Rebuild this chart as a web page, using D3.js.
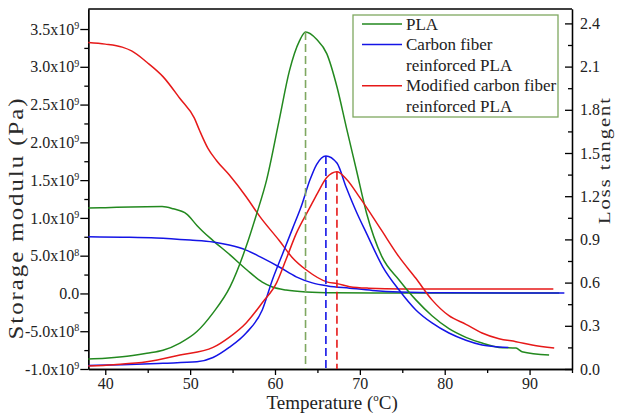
<!DOCTYPE html>
<html>
<head>
<meta charset="utf-8">
<script src="https://cdn.jsdelivr.net/npm/d3@7"></script>
<style>
  html, body { margin: 0; padding: 0; background: #fff; }
  svg { display: block; font-family: "Liberation Serif", "Times New Roman", serif; }
  svg text { font-family: "Liberation Serif", "Times New Roman", serif !important; }
</style>
</head>
<body>
<svg id="chart" width="619" height="419"></svg>
<script>
// ---------- DATA ----------
// Temperature (°C) vs storage modulus (x10^9 Pa) – left axis
const plaStorage = [[38,1.13],[40,1.135],[43,1.145],[46.7,1.15],[48,1.12],[49.6,1.05],[50.8,0.90],[51.5,0.82],[52.7,0.70],[54.7,0.51],[56.7,0.31],[58.5,0.15],[59.7,0.085],[61.3,0.045],[63.7,0.02],[67,0.01],[75,0.005],[93.5,0.005]];
const cfStorage = [[38,0.75],[42,0.745],[46,0.735],[50,0.706],[52.7,0.68],[54.6,0.64],[56.6,0.574],[58.5,0.47],[60.5,0.35],[62.5,0.22],[64.4,0.14],[66.2,0.10],[68.8,0.07],[71.5,0.04],[74.7,0.02],[80,0.01],[94.1,0.005]];
const mcfStorage = [[38,3.32],[40,3.30],[42,3.26],[43.1,3.21],[44.9,3.06],[46.8,2.87],[48.8,2.58],[50.5,2.32],[51.1,2.16],[52.1,1.92],[53.1,1.76],[54.6,1.57],[56.6,1.28],[58.2,1.02],[60.5,0.70],[62,0.48],[63.7,0.31],[66.2,0.15],[67.3,0.13],[68.8,0.09],[71,0.07],[75,0.06],[92.8,0.06]];
// Temperature (°C) vs loss tangent – right axis
const plaTan = [[38,0.07],[40,0.075],[42,0.085],[44.9,0.11],[46.8,0.13],[48.8,0.18],[50.8,0.26],[52.7,0.39],[54.7,0.57],[56.6,0.85],[57.8,1.07],[59,1.31],[60.5,1.73],[61.7,2.07],[62.9,2.28],[63.6,2.34],[64.9,2.29],[66.1,2.19],[67.3,1.96],[68.4,1.68],[69.6,1.38],[70.8,1.08],[72.6,0.78],[74.6,0.62],[76.6,0.48],[78.5,0.37],[80.5,0.28],[82.5,0.22],[84.4,0.18],[86.4,0.15],[88.4,0.145],[89.1,0.12],[92.3,0.097]];
const cfTan = [[38,0.025],[42,0.03],[46.8,0.04],[50.8,0.05],[52.7,0.08],[54.6,0.15],[56.6,0.25],[58.5,0.41],[59.7,0.62],[60.9,0.80],[62.1,0.98],[63.1,1.13],[64.1,1.31],[64.9,1.42],[66.0,1.48],[67.3,1.43],[68.4,1.26],[69.6,1.09],[70.8,0.94],[72.7,0.71],[74.6,0.55],[76.6,0.41],[78.5,0.32],[80.5,0.25],[82.5,0.20],[84.4,0.167],[86.4,0.153],[87.5,0.15]];
const mcfTan = [[38,0.02],[41,0.03],[44.9,0.05],[48.8,0.097],[52.7,0.15],[54.6,0.22],[56.6,0.32],[58.5,0.46],[60.2,0.60],[61.3,0.76],[62.5,0.94],[64.1,1.12],[65,1.22],[66.1,1.33],[67.3,1.37],[68.4,1.32],[70,1.19],[71.6,1.05],[72.7,0.95],[74.6,0.78],[76.6,0.63],[78.5,0.48],[80.5,0.37],[82.5,0.31],[84.4,0.25],[86.4,0.21],[88.4,0.19],[90.3,0.167],[92.9,0.145]];
// Peak positions [T, tan delta]
const peaks = [[63.6,2.34],[66.0,1.48],[67.3,1.37]];

const seriesNames = ["PLA", "Carbon fiber\nreinforced PLA", "Modified carbon fiber\nreinforced PLA"];

// Ticks
const xTicks = [40,50,60,70,80,90];
const xMinorTicks = [45,55,65,75,85,95];
const leftTicks = [-1,-0.5,0,0.5,1,1.5,2,2.5,3,3.5];
const leftTickLabels = ["-1.0x10^9","-5.0x10^8","0.0","5.0x10^8","1.0x10^9","1.5x10^9","2.0x10^9","2.5x10^9","3.0x10^9","3.5x10^9"];
const leftMinorTicks = [-0.75,-0.25,0.25,0.75,1.25,1.75,2.25,2.75,3.25];
const rightTicks = [0,0.3,0.6,0.9,1.2,1.5,1.8,2.1,2.4];
const rightTickLabels = ["0.0","0.3","0.6","0.9","1.2","1.5","1.8","2.1","2.4"];
const rightMinorTicks = [0.15,0.45,0.75,1.05,1.35,1.65,1.95,2.25];

// ---------- LAYOUT ----------
const colors = ["#23891f", "#1414e6", "#e61919"];
const dashColors = ["#7fa860", "#1414e6", "#e61919"];
const L = 88.3, R = 572, T = 9, B = 369;
const svg = d3.select("#chart");
const FF = '"Liberation Serif", "Times New Roman", serif';

const x = d3.scaleLinear().domain([38, 95]).range([L, R]);
const yL = d3.scaleLinear().domain([-1, 3.765]).range([B, T]);
const yR = d3.scaleLinear().domain([0, 2.5]).range([B, T]);

const fontTick = 16;

// Axes
const gx = svg.append("g").attr("transform", `translate(0,${B})`)
  .call(d3.axisBottom(x).tickValues(xTicks).tickSize(6).tickSizeOuter(0).tickFormat(d3.format("d")));
svg.append("g").attr("transform", `translate(0,${B})`)
  .call(d3.axisBottom(x).tickValues(xMinorTicks).tickSize(4).tickSizeOuter(0).tickFormat(""));
const gl = svg.append("g").attr("transform", `translate(${L},0)`)
  .call(d3.axisLeft(yL).tickValues(leftTicks).tickSize(8).tickSizeOuter(0).tickFormat((d,i) => leftTickLabels[i]));
svg.append("g").attr("transform", `translate(${L},0)`)
  .call(d3.axisLeft(yL).tickValues(leftMinorTicks).tickSize(4).tickSizeOuter(0).tickFormat(""));
const gr = svg.append("g").attr("transform", `translate(${R},0)`)
  .call(d3.axisRight(yR).tickValues(rightTicks).tickSizeInner(-7).tickSizeOuter(0).tickPadding(8).tickFormat((d,i) => rightTickLabels[i]));
svg.append("g").attr("transform", `translate(${R},0)`)
  .call(d3.axisRight(yR).tickValues(rightMinorTicks).tickSizeInner(-4).tickSizeOuter(0).tickFormat(""));

svg.selectAll("g").attr("font-family", null);
svg.selectAll(".domain").attr("stroke", "#000").attr("stroke-width", 1.3);
svg.selectAll(".tick line").attr("stroke", "#000").attr("stroke-width", 1.3);
svg.selectAll(".tick text").style("font-family", FF).attr("font-size", fontTick).attr("fill", "#222");

// superscript formatting for left labels
gl.selectAll(".tick text").each(function(d, i) {
  const lab = leftTickLabels[i];
  const t = d3.select(this);
  t.text(null).attr("x", -9);
  const parts = lab.split("^");
  t.append("tspan").text(parts[0]);
  if (parts.length > 1) {
    t.append("tspan").attr("font-size", 10).attr("dy", "-0.55em").text(parts[1]);
  }
});

// top frame line
svg.append("line").attr("x1", L).attr("x2", R).attr("y1", T).attr("y2", T)
  .attr("stroke", "#000").attr("stroke-width", 1.3);

// ---------- CURVES ----------
const lineL = d3.line().x(d => x(d[0])).y(d => yL(d[1])).curve(d3.curveMonotoneX);
const lineR = d3.line().x(d => x(d[0])).y(d => yR(d[1])).curve(d3.curveMonotoneX);

const plot = svg.append("g");
[plaStorage, cfStorage, mcfStorage].forEach((s, i) => {
  plot.append("path").datum(s).attr("d", lineL).attr("fill", "none")
    .attr("stroke", colors[i]).attr("stroke-width", 1.5);
});
[plaTan, cfTan, mcfTan].forEach((s, i) => {
  plot.append("path").datum(s).attr("d", lineR).attr("fill", "none")
    .attr("stroke", colors[i]).attr("stroke-width", 1.5);
});
// dashed peak markers
peaks.forEach((p, i) => {
  plot.append("line").attr("x1", x(p[0])).attr("x2", x(p[0]))
    .attr("y1", yR(p[1])).attr("y2", yR(0))
    .attr("stroke", dashColors[i]).attr("stroke-width", 1.6).attr("stroke-dasharray", "8,4");
});

// ---------- LEGEND ----------
const lg = svg.append("g");
lg.append("rect").attr("x", 353).attr("y", 15).attr("width", 205).attr("height", 102)
  .attr("fill", "#fff").attr("stroke", "#7fa860").attr("stroke-width", 1.3);
let row = 0;
seriesNames.forEach((name, i) => {
  const yy = 24 + row * 20.6;
  lg.append("line").attr("x1", 362).attr("x2", 402).attr("y1", yy).attr("y2", yy)
    .attr("stroke", colors[i]).attr("stroke-width", 1.5);
  name.split("\n").forEach((ln, k) => {
    lg.append("text").attr("x", 406).attr("y", yy + 5.5 + k * 20.6)
      .style("font-family", FF).attr("font-size", 17).attr("fill", "#222").text(ln);
  });
  row += name.split("\n").length;
});

// ---------- AXIS TITLES ----------
const xt = svg.append("text").attr("x", (L + R) / 2 + 2).attr("y", 409).attr("text-anchor", "middle")
  .style("font-family", FF).attr("font-size", 19).attr("fill", "#222");
xt.append("tspan").text("Temperature (");
xt.append("tspan").attr("font-size", 11).attr("dy", -8).text("o");
xt.append("tspan").attr("dy", 8).text("C)");

// vertical titles (elongated along their reading direction, as in the source figure)
function vTitle(txt, cx, cy, size, spacing, targetLen) {
  const g = svg.append("g");
  const t = g.append("text").attr("text-anchor", "middle")
    .style("font-family", FF).style("letter-spacing", spacing + "px")
    .attr("font-size", size).attr("fill", "#2a2a2a").text(txt);
  const w = t.node().getComputedTextLength() || targetLen;
  const s = targetLen / w;
  g.attr("transform", `translate(${cx},${cy}) rotate(-90) scale(${s},1)`);
}
vTitle("Storage modulu (Pa)", 23, 218, 20, 1.6, 243);
vTitle("Loss tangent", 610, 160, 17, 1.6, 128);
</script>
</body>
</html>
